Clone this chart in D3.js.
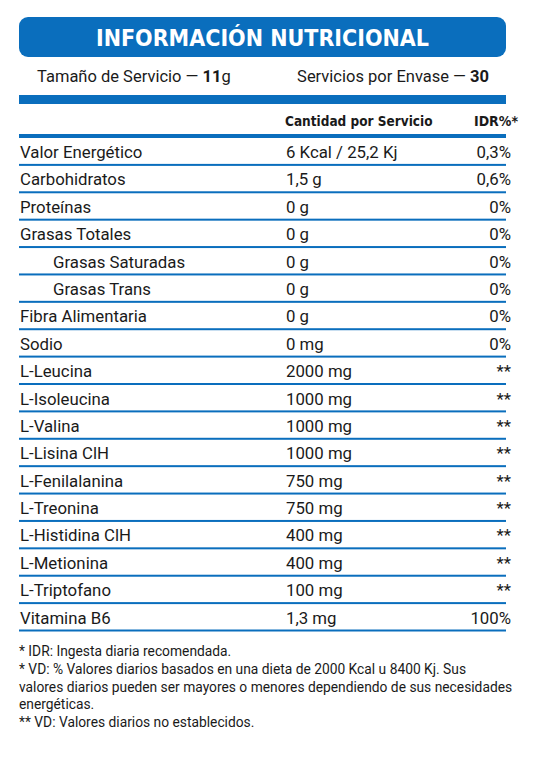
<!DOCTYPE html>
<html><head><meta charset="utf-8">
<script src="https://cdn.jsdelivr.net/npm/d3@7"></script>
<style>body{margin:0;background:#fff}</style></head>
<body><svg id="c" width="540" height="760"></svg>
<script>
const nutrients = ["Valor Energético","Carbohidratos","Proteínas","Grasas Totales","Grasas Saturadas","Grasas Trans","Fibra Alimentaria","Sodio","L-Leucina","L-Isoleucina","L-Valina","L-Lisina ClH","L-Fenilalanina","L-Treonina","L-Histidina ClH","L-Metionina","L-Triptofano","Vitamina B6"];
const amounts = ["6 Kcal / 25,2 Kj","1,5 g","0 g","0 g","0 g","0 g","0 g","0 mg","2000 mg","1000 mg","1000 mg","1000 mg","750 mg","750 mg","400 mg","400 mg","100 mg","1,3 mg"];
const idr = ["0,3%","0,6%","0%","0%","0%","0%","0%","0%","**","**","**","**","**","**","**","**","**","100%"];
const indented = ["Grasas Saturadas","Grasas Trans"];
const footnotes = ["* IDR: Ingesta diaria recomendada.","* VD: % Valores diarios basados en una dieta de 2000 Kcal u 8400 Kj. Sus","valores diarios pueden ser mayores o menores dependiendo de sus necesidades","energéticas.","** VD: Valores diarios no establecidos."];

const blue="#0a6ebd", txt="#1a1a1a", F="Roboto, 'Noto Sans', sans-serif";
const svg=d3.select("#c");
const L=19,R=506;
svg.append("rect").attr("x",L).attr("y",17).attr("width",R-L).attr("height",40).attr("rx",9).attr("fill",blue);
svg.append("text").attr("x",(L+R)/2).attr("y",46).attr("text-anchor","middle").attr("fill","#fff")
  .attr("font-family","'DejaVu Sans Condensed','DejaVu Sans',sans-serif").attr("font-weight","bold").attr("font-size",23).text("INFORMACIÓN NUTRICIONAL");
const t1=svg.append("text").attr("x",37).attr("y",82).attr("font-family",F).attr("font-size",16.5).attr("fill",txt);
t1.append("tspan").text("Tamaño de Servicio — ");t1.append("tspan").attr("font-weight","bold").text("11");t1.append("tspan").text("g");
const t2=svg.append("text").attr("x",489).attr("y",82).attr("text-anchor","end").attr("font-family",F).attr("font-size",16.5).attr("fill",txt);
t2.append("tspan").text("Servicios por Envase — ");t2.append("tspan").attr("font-weight","bold").text("30");
svg.append("rect").attr("x",L).attr("y",95).attr("width",R-L).attr("height",9).attr("fill",blue);
const HF="'DejaVu Sans Condensed','DejaVu Sans',sans-serif";
svg.append("text").attr("x",285).attr("y",126).attr("font-family",HF).attr("font-weight","bold").attr("font-size",13.5).attr("fill",txt).text("Cantidad por Servicio");
svg.append("text").attr("x",518).attr("y",126).attr("text-anchor","end").attr("font-family",HF).attr("font-weight","bold").attr("font-size",14).attr("fill",txt).text("IDR%*");
svg.append("rect").attr("x",L).attr("y",134).attr("width",R-L).attr("height",4).attr("fill",blue);

const y=d3.scaleBand().domain(nutrients).range([138,631]);
const rows=svg.append("g").selectAll("g").data(nutrients).join("g").attr("transform",d=>`translate(0,${y(d)})`);
rows.append("rect").attr("x",L).attr("y",y.bandwidth()-1.5).attr("width",R-L).attr("height",2).attr("fill",blue);
rows.append("text").attr("x",d=>indented.includes(d)?53:20).attr("y",20).attr("font-family",F).attr("font-size",16.8).attr("fill",txt).text(d=>d);
rows.append("text").attr("x",286).attr("y",20).attr("font-family",F).attr("font-size",16.8).attr("fill",txt).text((d,i)=>amounts[i]);
rows.append("text").attr("x",511).attr("y",20).attr("text-anchor","end").attr("font-family",F).attr("font-size",16.8).attr("fill",txt).text((d,i)=>idr[i]);

const fy=[656,674,692,709,727];
svg.append("g").selectAll("text").data(footnotes).join("text").attr("x",19).attr("y",(d,i)=>fy[i])
  .attr("font-family",F).attr("font-size",13.8).attr("fill",txt).text(d=>d);
</script></body></html>
